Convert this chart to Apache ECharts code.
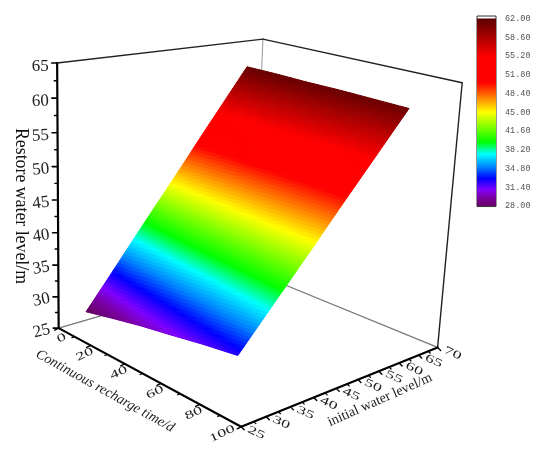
<!DOCTYPE html>
<html>
<head>
<meta charset="utf-8">
<style>html,body{margin:0;padding:0;background:#fff}#chart{width:550px;height:457px}</style>
<script src="https://cdn.jsdelivr.net/npm/echarts@6/dist/echarts.min.js"></script>
</head>
<body>
<div id="chart"></div>
<script>
// axis ranges and ticks
const timeRange = [0, 100];
const levelRange = [25, 70];
const restoreRange = [25, 65];
const timeTicks = [0, 20, 40, 60, 80, 100];
const timeMinorTicks = [10, 30, 50, 70, 90];
const levelTicks = [25, 30, 35, 40, 45, 50, 55, 60, 65, 70];
const levelMinorTicks = [27.5, 32.5, 37.5, 42.5, 47.5, 52.5, 57.5, 62.5, 67.5];
const restoreTicks = [25, 30, 35, 40, 45, 50, 55, 60, 65];
const restoreMinorTicks = [27.5, 32.5, 37.5, 42.5, 47.5, 52.5, 57.5, 62.5];

// surface: one row per initial water level
const surfaceTimes = [6.5, 23, 39, 56, 72, 89];
const surfaceLevels = [28.5, 33.5, 38.5, 43.5, 48.5, 53.5, 58.5, 63.5];
const restoreAt28 = [27.7, 28.8, 29.8, 30.7, 31.6, 32.4];
const restoreAt33 = [32.5, 33.4, 34.2, 35.0, 35.8, 36.5];
const restoreAt38 = [37.4, 38.1, 38.8, 39.4, 40.0, 40.6];
const restoreAt43 = [42.2, 42.8, 43.3, 43.8, 44.3, 44.7];
const restoreAt48 = [47.0, 47.5, 47.9, 48.2, 48.6, 48.9];
const restoreAt53 = [51.9, 52.2, 52.4, 52.6, 52.8, 53.0];
const restoreAt58 = [56.7, 56.8, 56.9, 57.0, 57.0, 57.1];
const restoreAt63 = [61.5, 61.5, 61.4, 61.4, 61.3, 61.2];
const surfaceRows = [restoreAt28, restoreAt33, restoreAt38, restoreAt43, restoreAt48, restoreAt53, restoreAt58, restoreAt63];

// colour scale
const colorbarTicks = [28, 31.4, 34.8, 38.2, 41.6, 45, 48.4, 51.8, 55.2, 58.6, 62];
const stopValues = [28, 29.5, 31, 33, 35, 37.4, 39.6, 45, 50.4, 55, 62];
const stopColors = ['#660066', '#7a00a0', '#7f00ff', '#0000ff', '#0080ff', '#00ffff', '#00ff00', '#ffff00', '#ff0000', '#ff0000', '#5a0000'];

// where the box corners sit on the page, used to fit the camera: [t, h, z, px, py]
const cameraCorners = [
  [0, 25, 25, 58, 328],
  [100, 25, 25, 241, 427],
  [0, 70, 25, 254, 272],
  [0, 25, 65, 58, 63],
  [100, 70, 25, 437, 347],
  [0, 70, 65, 261.5, 39],
  [100, 70, 65, 463, 83]
];

function unit(t, h, z) {
  return [
    (t - timeRange[0]) / (timeRange[1] - timeRange[0]),
    (h - levelRange[0]) / (levelRange[1] - levelRange[0]),
    (z - restoreRange[0]) / (restoreRange[1] - restoreRange[0])
  ];
}

// least squares for the 3x4 camera matrix (last entry fixed to 1)
function fitCamera() {
  const rows = [];
  cameraCorners.forEach((c) => {
    const [u, v, w] = unit(c[0], c[1], c[2]);
    rows.push([u, v, w, 1, 0, 0, 0, 0, -c[3] * u, -c[3] * v, -c[3] * w, c[3]]);
    rows.push([0, 0, 0, 0, u, v, w, 1, -c[4] * u, -c[4] * v, -c[4] * w, c[4]]);
  });
  const n = 11;
  const m = [];
  for (let i = 0; i < n; i++) {
    m[i] = [];
    for (let j = 0; j <= n; j++) {
      m[i][j] = rows.reduce((s, r) => s + r[i] * r[j], 0);
    }
  }
  for (let i = 0; i < n; i++) {
    let best = i;
    for (let k = i + 1; k < n; k++) if (Math.abs(m[k][i]) > Math.abs(m[best][i])) best = k;
    [m[i], m[best]] = [m[best], m[i]];
    for (let k = 0; k < n; k++) {
      if (k === i) continue;
      const f = m[k][i] / m[i][i];
      for (let j = i; j <= n; j++) m[k][j] -= f * m[i][j];
    }
  }
  return m.map((r, i) => r[n] / r[i]);
}
const cam = fitCamera();

function project(t, h, z) {
  const [u, v, w] = unit(t, h, z);
  const d = cam[8] * u + cam[9] * v + cam[10] * w + 1;
  return [
    (cam[0] * u + cam[1] * v + cam[2] * w + cam[3]) / d,
    (cam[4] * u + cam[5] * v + cam[6] * w + cam[7]) / d
  ];
}

function colorOf(z) {
  for (let i = 1; i < stopValues.length; i++) {
    if (z <= stopValues[i]) {
      const f = Math.max(0, (z - stopValues[i - 1]) / (stopValues[i] - stopValues[i - 1]));
      return echarts.color.lerp(f, [stopColors[i - 1], stopColors[i]]);
    }
  }
  return stopColors[stopColors.length - 1];
}

function lineEl(a, b, stroke, lineWidth) {
  return {
    type: 'line',
    shape: { x1: a[0], y1: a[1], x2: b[0], y2: b[1] },
    style: { stroke: stroke, lineWidth: lineWidth, lineCap: 'round' },
    silent: true
  };
}

function textEl(text, p, rotateDeg, font, sx, sy) {
  return {
    type: 'text',
    x: p[0],
    y: p[1],
    scaleX: sx || 1,
    scaleY: sy || 1,
    rotation: (rotateDeg * Math.PI) / 180,
    style: { text: text, font: font, fill: '#222', align: 'center', verticalAlign: 'middle' },
    silent: true
  };
}

const T0 = timeRange[0], T1 = timeRange[1], H0 = levelRange[0], H1 = levelRange[1], Z0 = restoreRange[0], Z1 = restoreRange[1];

// one series per layer, drawn back to front
function backEdges() {
  const g = [
    lineEl(project(T0, H1, Z0), project(T0, H0, Z0), '#777', 1.2),
    lineEl(project(T0, H1, Z0), project(T1, H1, Z0), '#777', 1.2),
    lineEl(project(T0, H1, Z0), project(T0, H1, Z1), '#999', 1)
  ];
  return { type: 'group', children: g };
}

function surfaceCell(params) {
  const idx = params.dataIndex;
  const cols = surfaceTimes.length - 1;
  const j = idx % cols;
  const i = Math.floor(idx / cols);
  const steps = 12;
  const children = [];
  const at = (a, b) => {
    const t = surfaceTimes[j] + (surfaceTimes[j + 1] - surfaceTimes[j]) * a;
    const h = surfaceLevels[i] + (surfaceLevels[i + 1] - surfaceLevels[i]) * b;
    const z = (1 - b) * ((1 - a) * surfaceRows[i][j] + a * surfaceRows[i][j + 1]) +
      b * ((1 - a) * surfaceRows[i + 1][j] + a * surfaceRows[i + 1][j + 1]);
    return { p: project(t, h, z), z: z };
  };
  for (let a = 0; a < steps; a++) {
    for (let b = 0; b < steps; b++) {
      const p1 = at(a / steps, b / steps), p2 = at((a + 1) / steps, b / steps);
      const p3 = at((a + 1) / steps, (b + 1) / steps), p4 = at(a / steps, (b + 1) / steps);
      const c = colorOf((p1.z + p2.z + p3.z + p4.z) / 4);
      children.push({
        type: 'polygon',
        shape: { points: [p1.p, p2.p, p3.p, p4.p] },
        style: { fill: c, stroke: c, lineWidth: 1 },
        silent: true
      });
    }
  }
  return { type: 'group', children: children };
}

function frontFrame() {
  const g = [
    lineEl(project(T0, H0, Z1), project(T0, H1, Z1), '#222', 1.4),
    lineEl(project(T0, H1, Z1), project(T1, H1, Z1), '#222', 1.4),
    lineEl(project(T1, H1, Z1), project(T1, H1, Z0), '#222', 1.4),
    lineEl(project(T0, H0, Z0), project(T0, H0, Z1), '#000', 2.2),
    lineEl(project(T0, H0, Z0), project(T1, H0, Z0), '#000', 2.2),
    lineEl(project(T1, H0, Z0), project(T1, H1, Z0), '#000', 2.2)
  ];
  const axisFont = '17px "Liberation Serif"';
  const smallFont = '15px "Liberation Serif"';
  restoreTicks.forEach((z) => {
    const p = project(T0, H0, z);
    g.push(lineEl(p, [p[0] - 5.5, p[1]], '#000', 1.6));
    g.push(textEl(String(z), [p[0] - 17, p[1] + 3], ((65 - z) / 40) * 14, axisFont));
  });
  restoreMinorTicks.forEach((z) => {
    const p = project(T0, H0, z);
    g.push(lineEl(p, [p[0] - 3, p[1]], '#000', 1.4));
  });
  timeTicks.forEach((t) => {
    const p = project(t, H0, Z0);
    g.push(lineEl(p, [p[0] - 4, p[1] + 2], '#000', 1.4));
    const digits = String(t).length;
    const dx = digits === 1 ? 3 : digits === 2 ? -6 : -19;
    const dy = digits === 1 ? 10 : digits === 2 ? 9 : 7;
    g.push(textEl(String(t), [p[0] + dx, p[1] + dy], 25, smallFont, 1.2, 0.75));
  });
  timeMinorTicks.forEach((t) => {
    const p = project(t, H0, Z0);
    g.push(lineEl(p, [p[0] - 2.5, p[1] + 1], '#000', 1.2));
  });
  levelTicks.forEach((h) => {
    const p = project(T1, h, Z0);
    g.push(lineEl(p, [p[0] + 3, p[1] + 3], '#000', 1.4));
    g.push(textEl(String(h), [p[0] + 15, p[1] + 6], -25, smallFont, 1.2, 0.75));
  });
  levelMinorTicks.forEach((h) => {
    const p = project(T1, h, Z0);
    g.push(lineEl(p, [p[0] + 2, p[1] + 2], '#000', 1.2));
  });
  return { type: 'group', children: g };
}

function colorbar(params, api) {
  const a = api.coord([0, 28]);
  const b = api.coord([1, 62]);
  const top = api.coord([0, 62.45]);
  const bottom = api.coord([0, 27.9]);
  const stops = stopValues.map((v, i) => ({ offset: (v - 28) / 34, color: stopColors[i] }));
  return {
    type: 'group',
    children: [
      {
        type: 'rect',
        shape: { x: a[0], y: top[1], width: b[0] - a[0], height: bottom[1] - top[1] },
        style: { fill: '#fff', stroke: '#333', lineWidth: 1 }
      },
      {
        type: 'rect',
        shape: { x: a[0], y: b[1], width: b[0] - a[0], height: a[1] - b[1] },
        style: { fill: new echarts.graphic.LinearGradient(0, 1, 0, 0, stops) }
      }
    ]
  };
}

const cells = [];
surfaceLevels.slice(1).forEach((h, i) => {
  surfaceTimes.slice(1).forEach((t, j) => cells.push([i, j]));
});

const option = {
  animation: false,
  backgroundColor: '#fff',
  grid: { left: 477, top: 18.5, width: 19, height: 187.5 },
  xAxis: { type: 'value', min: 0, max: 1, show: false },
  yAxis: {
    type: 'value',
    min: 28,
    max: 62,
    position: 'right',
    splitLine: { show: false },
    axisLine: { show: false },
    axisTick: { show: true, length: 7, lineStyle: { color: '#666' }, customValues: colorbarTicks },
    axisLabel: {
      customValues: colorbarTicks,
      margin: 9,
      color: '#555',
      fontFamily: 'Liberation Mono',
      fontSize: 8.5,
      formatter: (v) => v.toFixed(2)
    }
  },
  graphic: [
    {
      type: 'text', x: 21, y: 206, rotation: -Math.PI / 2,
      style: { text: 'Restore water level/m', fontSize: 17.8, fontFamily: 'Liberation Serif', fill: '#111', align: 'center', verticalAlign: 'middle' }
    },
    {
      type: 'text', x: 105, y: 391, rotation: (-29 * Math.PI) / 180,
      style: { text: 'Continuous recharge time/d', fontStyle: 'italic', fontSize: 14, fontFamily: 'Liberation Serif', fill: '#222', align: 'center', verticalAlign: 'middle' }
    },
    {
      type: 'text', x: 380, y: 400, rotation: (24 * Math.PI) / 180,
      style: { text: 'initial water level/m', fontSize: 14, fontFamily: 'Liberation Serif', fill: '#222', align: 'center', verticalAlign: 'middle' }
    }
  ],
  series: [
    { type: 'custom', coordinateSystem: 'none', silent: true, data: [[0]], renderItem: backEdges },
    { type: 'custom', coordinateSystem: 'none', silent: true, data: cells, renderItem: surfaceCell },
    { type: 'custom', coordinateSystem: 'none', silent: true, data: [[0]], renderItem: frontFrame },
    { type: 'custom', coordinateSystem: 'cartesian2d', silent: true, data: [[0, 28]], renderItem: colorbar }
  ]
};

echarts.init(document.getElementById('chart')).setOption(option);
</script>
</body>
</html>
